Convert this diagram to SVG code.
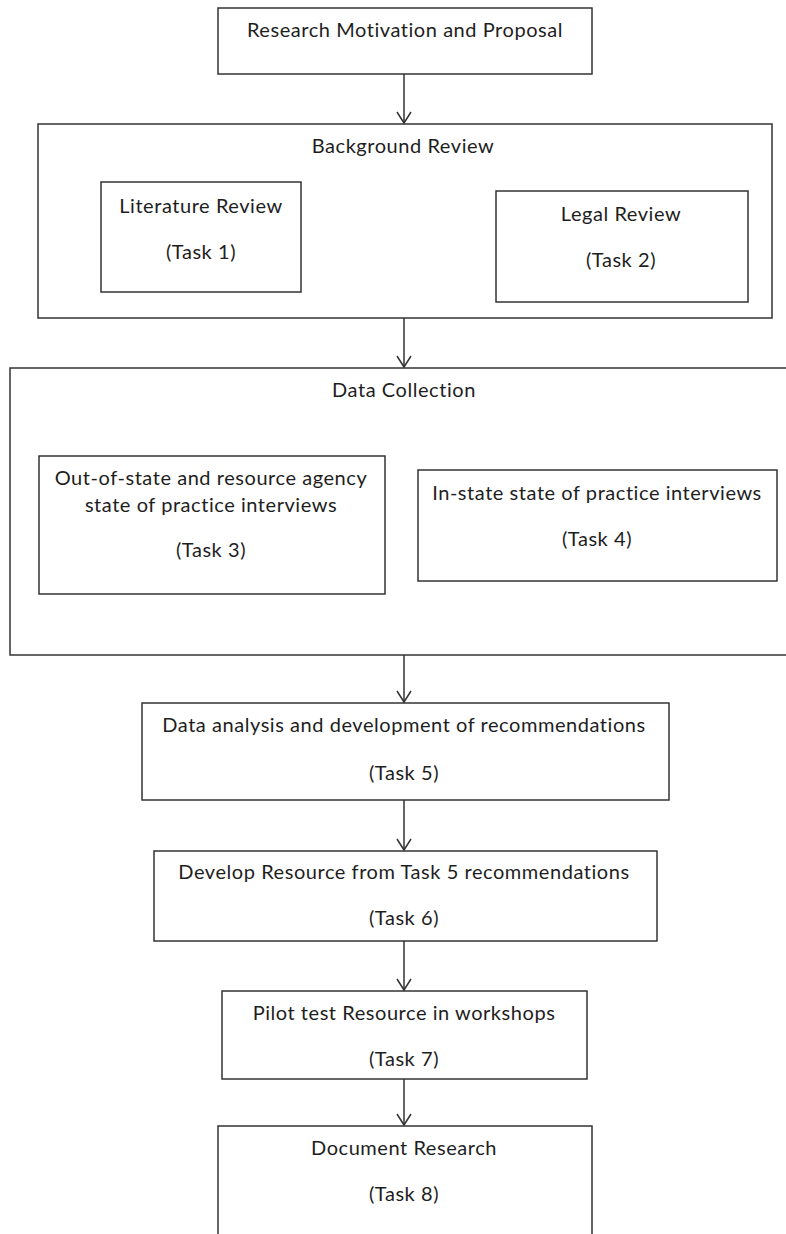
<svg xmlns="http://www.w3.org/2000/svg" width="786" height="1234" viewBox="0 0 786 1234">
  <style>
    .box { fill: #ffffff; stroke: #333333; stroke-width: 1.5; }
    .lbl { font-family: Lato, "Open Sans", "Liberation Sans", sans-serif; font-size: 20px; letter-spacing: 0.55px; fill: #1e1e1e; text-anchor: middle; }
    .conn line { stroke: #333333; stroke-width: 1.5; }
    .conn polyline { fill: none; stroke: #333333; stroke-width: 1.5; }
  </style>
  <rect x="0" y="0" width="786" height="1234" fill="#ffffff"/>

  <g id="proposal">
    <rect class="box" x="218" y="8" width="374" height="66"/>
    <text class="lbl" x="405" y="37">Research Motivation and Proposal</text>
  </g>

  <g id="background-review">
    <rect class="box" x="38" y="124" width="734" height="194"/>
    <text class="lbl" x="403" y="153">Background Review</text>
  </g>
  <g id="task1">
    <rect class="box" x="101" y="182" width="200" height="110"/>
    <text class="lbl" x="201" y="213">Literature Review</text>
    <text class="lbl" x="201" y="259">(Task 1)</text>
  </g>
  <g id="task2">
    <rect class="box" x="496" y="191" width="252" height="111"/>
    <text class="lbl" x="621" y="221">Legal Review</text>
    <text class="lbl" x="621" y="267">(Task 2)</text>
  </g>

  <g id="data-collection">
    <rect class="box" x="10" y="368" width="790" height="287"/>
    <text class="lbl" x="404" y="397">Data Collection</text>
  </g>
  <g id="task3">
    <rect class="box" x="39" y="456" width="346" height="138"/>
    <text class="lbl" x="211" y="485">Out-of-state and resource agency</text>
    <text class="lbl" x="211" y="512">state of practice interviews</text>
    <text class="lbl" x="211" y="557">(Task 3)</text>
  </g>
  <g id="task4">
    <rect class="box" x="418" y="470" width="359" height="111"/>
    <text class="lbl" x="597" y="500">In-state state of practice interviews</text>
    <text class="lbl" x="597" y="546">(Task 4)</text>
  </g>

  <g id="task5">
    <rect class="box" x="142" y="703" width="527" height="97"/>
    <text class="lbl" x="404" y="732">Data analysis and development of recommendations</text>
    <text class="lbl" x="404" y="780">(Task 5)</text>
  </g>

  <g id="task6">
    <rect class="box" x="154" y="851" width="503" height="90"/>
    <text class="lbl" x="404" y="879">Develop Resource from Task 5 recommendations</text>
    <text class="lbl" x="404" y="925">(Task 6)</text>
  </g>

  <g id="task7">
    <rect class="box" x="222" y="991" width="365" height="88"/>
    <text class="lbl" x="404" y="1020">Pilot test Resource in workshops</text>
    <text class="lbl" x="404" y="1066">(Task 7)</text>
  </g>

  <g id="task8">
    <rect class="box" x="218" y="1126" width="374" height="120"/>
    <text class="lbl" x="404" y="1155">Document Research</text>
    <text class="lbl" x="404" y="1201">(Task 8)</text>
  </g>

  <!-- vertical flow arrows with open chevron heads -->
  <g id="connectors" class="conn">
    <line x1="404" y1="74" x2="404" y2="123"/>
    <polyline points="397,112 404,123 411,112"/>
    <line x1="404" y1="318" x2="404" y2="367"/>
    <polyline points="397,356 404,367 411,356"/>
    <line x1="404" y1="655" x2="404" y2="702"/>
    <polyline points="397,691 404,702 411,691"/>
    <line x1="404" y1="800" x2="404" y2="850"/>
    <polyline points="397,839 404,850 411,839"/>
    <line x1="404" y1="941" x2="404" y2="990"/>
    <polyline points="397,979 404,990 411,979"/>
    <line x1="404" y1="1079" x2="404" y2="1125"/>
    <polyline points="397,1114 404,1125 411,1114"/>
  </g>
</svg>
